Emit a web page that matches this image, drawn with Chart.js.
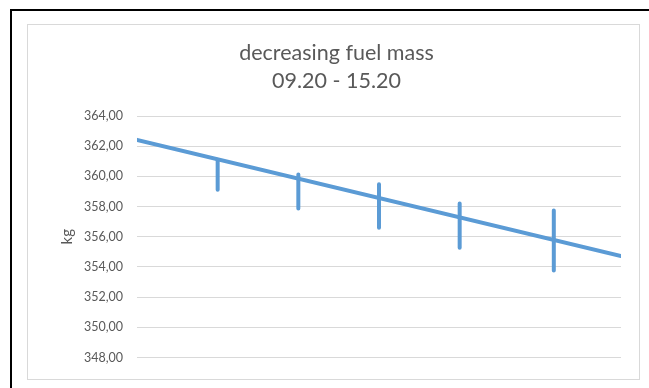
<!DOCTYPE html>
<html>
<head>
<meta charset="utf-8">
<script src="https://cdn.jsdelivr.net/npm/chart.js@4/dist/chart.umd.min.js"></script>
<style>
  body { margin: 0; width: 649px; height: 388px; background: #fff; overflow: hidden; position: relative; }
  .frame { position: absolute; left: 10px; top: 9px; right: 0; bottom: -10px; border-top: 2px solid #000; border-left: 2px solid #000; }
  .chartBox { position: absolute; left: 27px; top: 24px; width: 611px; height: 354px; border: 1px solid #d9d9d9; background: #fff; }
</style>
</head>
<body>
<div class="frame"></div>
<div class="chartBox"><canvas id="fuelChart" width="611" height="354"></canvas></div>
<script>
// time axis in hours (09:20 - 15:20)
const timeRange = [9.333, 15.333];

// trend line of the fuel mass (kg)
const trendTimes = [9.333, 15.333];
const trendMass = [362.42, 354.72];

// measurements: time and range of each bar (kg)
const measureTimes = [10.333, 11.333, 12.333, 13.333, 14.5];
const massHigh = [361.1, 360.12, 359.47, 358.21, 357.74];
const massLow = [359.12, 357.87, 356.59, 355.27, 353.77];

const yTicks = { min: 348, max: 364, step: 2 };

const blue = '#5b9bd5';
const textGrey = '#595959';

// vertical bars as one dataset, split by gaps
const barPoints = [];
measureTimes.forEach((t, i) => {
  barPoints.push({ x: t, y: massHigh[i] });
  barPoints.push({ x: t, y: massLow[i] });
  barPoints.push({ x: t, y: null });
});

const trendPoints = trendTimes.map((t, i) => ({ x: t, y: trendMass[i] }));

const ctx = document.getElementById('fuelChart').getContext('2d');
new Chart(ctx, {
  type: 'line',
  data: {
    datasets: [
      {
        label: 'fuel mass',
        data: trendPoints,
        borderColor: blue,
        borderWidth: 4,
        borderCapStyle: 'round',
        pointRadius: 0,
        tension: 0
      },
      {
        label: 'range',
        data: barPoints,
        borderColor: blue,
        borderWidth: 4,
        borderCapStyle: 'round',
        pointRadius: 0,
        spanGaps: false
      }
    ]
  },
  options: {
    responsive: false,
    animation: false,
    layout: { padding: { left: 24, right: 18, top: 0, bottom: 17 } },
    plugins: {
      legend: { display: false },
      tooltip: { enabled: false },
      title: {
        display: true,
        text: ['decreasing fuel mass', '09.20 - 15.20'],
        color: textGrey,
        font: { family: 'Lato', size: 21.5, weight: 'normal', lineHeight: 28 / 21.5 },
        padding: { top: 14, bottom: 21 }
      }
    },
    scales: {
      x: {
        type: 'linear',
        display: false,
        min: timeRange[0],
        max: timeRange[1]
      },
      y: {
        min: yTicks.min,
        max: yTicks.max,
        afterFit: (scale) => { scale.width = 85; },
        ticks: {
          stepSize: yTicks.step,
          color: textGrey,
          padding: 14,
          font: { family: 'Lato', size: 12.5 },
          callback: (v) => v.toFixed(2).replace('.', ',')
        },
        grid: { color: '#d9d9d9', drawTicks: false },
        border: { display: false },
        title: {
          display: true,
          text: 'kg',
          color: textGrey,
          font: { family: 'Lato', size: 15, lineHeight: 1 },
          padding: { top: 8, bottom: 0 }
        }
      }
    }
  }
});
</script>
</body>
</html>
